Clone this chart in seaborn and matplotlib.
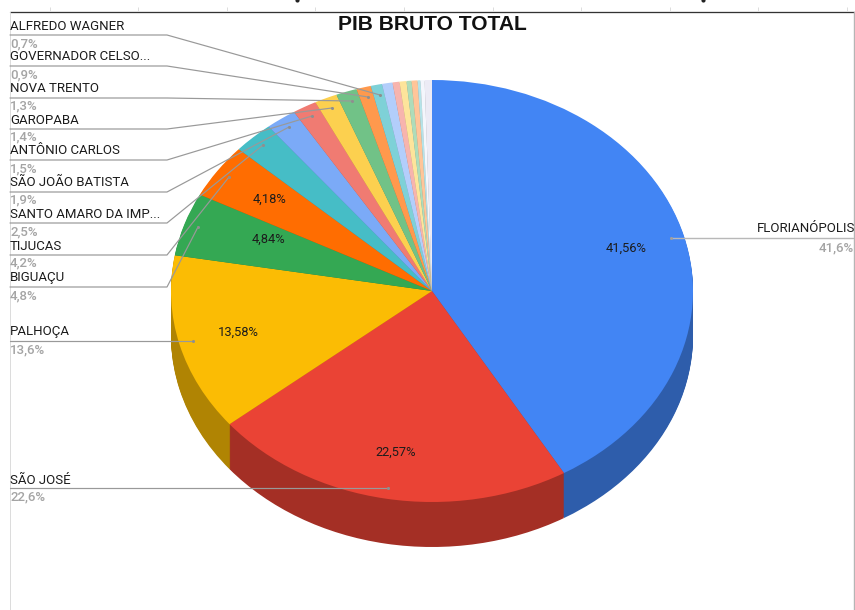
import matplotlib
matplotlib.use('Agg')
import matplotlib.pyplot as plt
import seaborn as sns
from matplotlib.colors import to_rgb

sns.set_theme(style='white')
plt.rcParams['font.family'] = ['Roboto', 'DejaVu Sans']

# Slices, clockwise from the top
valores = [41.56, 22.57, 13.58, 4.84, 4.18, 2.50, 1.90, 1.50, 1.40, 1.30, 0.90, 0.70,
           0.65, 0.43, 0.43, 0.31, 0.37, 0.18, 0.25, 0.45]
cores = ['#4285f4', '#ea4335', '#fbbc04', '#34a853', '#ff6d01', '#46bdc6', '#7baaf7', '#f07b72',
         '#fcd04f', '#71c287', '#ff994d', '#7ed1d7', '#b3cefb', '#f7b4ae', '#fde49b', '#aedcba',
         '#ffc599', '#b5e3e8', '#f4f6fc', '#ecebf5']
rotulos_fatia = ['41,56%', '22,57%', '13,58%', '4,84%', '4,18%']

# Labels of the legend, with their leader lines
nomes = ['ALFREDO WAGNER', 'GOVERNADOR CELSO...', 'NOVA TRENTO', 'GAROPABA', 'ANTÔNIO CARLOS',
         'SÃO JOÃO BATISTA', 'SANTO AMARO DA IMP...', 'TIJUCAS', 'BIGUAÇU', 'PALHOÇA', 'SÃO JOSÉ']
percentuais = ['0,7%', '0,9%', '1,3%', '1,4%', '1,5%', '1,9%', '2,5%', '4,2%', '4,8%', '13,6%', '22,6%']
y_nome = [26, 57, 88, 120, 151, 183, 214, 246, 277, 332, 480]
y_pct = [44, 75, 106, 137, 169, 200, 232, 263, 296, 350, 497]
y_linha = [35, 66, 98, 129, 160, 192, 223, 255, 287, 341, 488]
x_ponta = [380, 368, 352, 332, 312, 289, 263, 229, 198, 193, 388]
y_ponta = [95, 97, 101, 108, 116, 127, 145, 177, 227, 341, 488]
x_marcas = [50, 138, 227, 315, 404, 493, 581, 670, 758, 847]

W, H = 855, 610
cx, cy, rx, ry, prof = 432, 291, 261, 211, 45
PX = 0.72  # one pixel in points

fig = plt.figure(figsize=(W / 100, H / 100), dpi=100)
ax = fig.add_axes([0, 0, 1, 1])


def escuro(c, f=0.7):
    return tuple(v * f for v in to_rgb(c))


# side wall: the same pie stacked downwards in darker colours
for d in range(prof, 0, -1):
    ax.pie(valores, colors=[escuro(c) for c in cores], startangle=90, counterclock=False,
           center=(0, -d / ry), radius=1, wedgeprops={'linewidth': 0})
fatias, _ = ax.pie(valores, colors=cores, startangle=90, counterclock=False,
                   center=(0, 0), radius=1, wedgeprops={'linewidth': 0})

# one pie unit is rx wide and ry tall in pixels
ax.set_aspect('auto')
ax.set_xlim(-cx / rx, (W - cx) / rx)
ax.set_ylim(-(H - cy) / ry, cy / ry)
ax.axis('off')

# pixel overlay for frame and labels
ov = fig.add_axes([0, 0, 1, 1], facecolor='none')
ov.set_xlim(0, W)
ov.set_ylim(H, 0)
ov.axis('off')

# sheet frame
ov.plot([10, W], [11.5, 11.5], color='#333333', lw=1.3 * PX)
ov.plot([9.5, 9.5], [12, H], color='#dcdcdc', lw=1 * PX)
ov.plot([854, 854], [12, H], color='#b5b5b5', lw=1.4 * PX)
ov.vlines(x_marcas, 7, 11, color='#dddddd', lw=1 * PX)
# what is left of the cropped sheet heading
ov.plot([297, 703], [0, 0], 'o', ms=3, mew=0, color='#222222')

ov.text(432, 24, 'PIB BRUTO TOTAL', ha='center', va='center', fontsize=15.1,
        fontweight='bold', color='#111111', family=['Liberation Sans', 'DejaVu Sans'])

# value labels inside the slices
pos_rot = [(626, 248), (396, 452), (238, 332), (268, 239), (270, 199)]
for txt, (x, y) in zip(rotulos_fatia, pos_rot):
    ov.text(x, y, txt, ha='center', va='center', fontsize=9.3, color='#1c1c1c')

# legend on the left
for i, nome in enumerate(nomes):
    ov.text(10, y_nome[i], nome, ha='left', va='center', fontsize=9.55, color='#1c1c1c')
    ov.text(10, y_pct[i], percentuais[i], ha='left', va='center', fontsize=9.55, color='#a4a4a4',
            fontweight='medium')
    x_cot = 167 if i < 9 else x_ponta[i]
    ov.plot([10, x_cot, x_ponta[i]], [y_linha[i], y_linha[i], y_ponta[i]],
            color='#999999', lw=1.2 * PX, solid_joinstyle='round')
    ov.plot(x_ponta[i], y_ponta[i], 'o', ms=2.2, mew=0, color='#8f8f8f')

# Florianópolis on the right
ov.text(855, 229, 'FLORIANÓPOLIS', ha='right', va='center', fontsize=9.55, color='#1c1c1c')
ov.text(854, 248, '41,6%', ha='right', va='center', fontsize=9.55, color='#a4a4a4',
        fontweight='medium')
ov.plot([671, 853], [238, 238], color='#b8b8b8', lw=1.4 * PX)
ov.plot(671, 238, 'o', ms=2.2, mew=0, color='#a0a0a0')

fig.savefig('out.png', dpi=100)
